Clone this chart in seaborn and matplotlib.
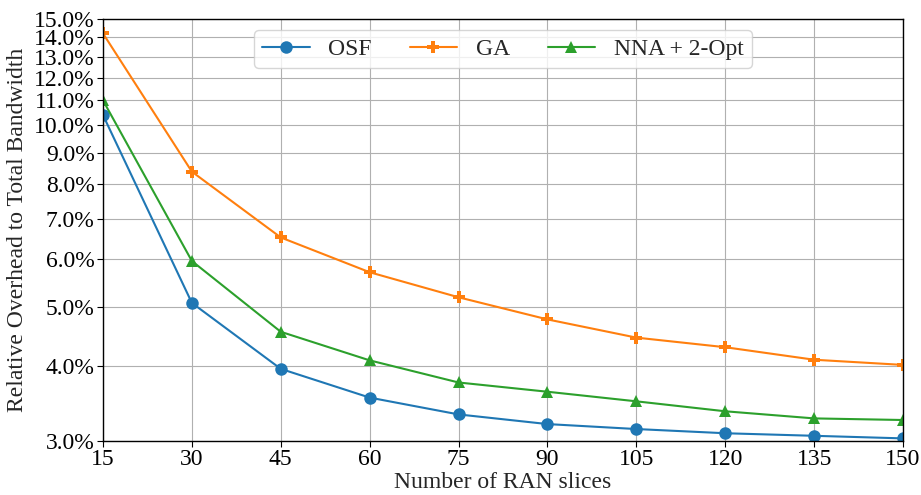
import numpy as np
import pandas as pd
import matplotlib
matplotlib.use("Agg")
import matplotlib.pyplot as plt
import seaborn as sns
from matplotlib.ticker import FuncFormatter, NullLocator

slices = [15, 30, 45, 60, 75, 90, 105, 120, 135, 150]
osf = [10.4, 5.08, 3.95, 3.54, 3.32, 3.20, 3.14, 3.09, 3.06, 3.03]
ga = [14.2, 8.38, 6.52, 5.71, 5.19, 4.77, 4.45, 4.29, 4.09, 4.01]
nna = [11.0, 5.96, 4.55, 4.08, 3.75, 3.62, 3.49, 3.36, 3.27, 3.25]
series_names = ["OSF", "GA", "NNA + 2-Opt"]
y_ticks = [3, 4, 5, 6, 7, 8, 9, 10, 11, 12, 13, 14, 15]

df = pd.DataFrame({
    "slices": slices * 3,
    "value": osf + ga + nna,
    "method": sum([[n] * len(slices) for n in series_names], []),
})

sns.set_style("ticks")
plt.rcParams["font.family"] = ["Liberation Serif", "DejaVu Serif"]

fig = plt.figure(figsize=(9.21, 4.95), dpi=100)
ax = fig.add_axes([0.1118, 0.1091, 0.8687, 0.8525])

palette = {"OSF": "#1f77b4", "GA": "#ff7f0e", "NNA + 2-Opt": "#2ca02c"}
markers = {"OSF": "o", "GA": "P", "NNA + 2-Opt": "^"}
sns.lineplot(data=df, x="slices", y="value", hue="method", style="method",
             markers=markers, dashes=False, palette=palette, ax=ax,
             markersize=9, linewidth=1.5, markeredgewidth=0,
             hue_order=series_names, style_order=series_names)

ax.set_yscale("log")
ax.set_ylim(3, 15)
ax.set_xlim(15, 150)
ax.set_yticks(y_ticks)
ax.yaxis.set_minor_locator(NullLocator())
ax.yaxis.set_major_formatter(FuncFormatter(lambda v, p: f"{v:.1f}%"))
ax.set_xticks(slices)
ax.grid(True, color="#b0b0b0", linewidth=0.8)
for s in ax.spines.values():
    s.set_color("black")
    s.set_linewidth(1.0)
ax.tick_params(labelsize=17, colors="black", length=4, pad=2)
ax.set_xlabel("Number of RAN slices", fontsize=17, labelpad=1)
ax.set_ylabel("Relative Overhead to Total Bandwidth", fontsize=17, labelpad=4)

ax.legend(loc="upper center", ncol=3, fontsize=17, bbox_to_anchor=(0.5, 0.974),
          borderaxespad=0, columnspacing=1.6, handlelength=2.0, title=None,
          borderpad=0.35)

fig.savefig("out.png", dpi=100)
